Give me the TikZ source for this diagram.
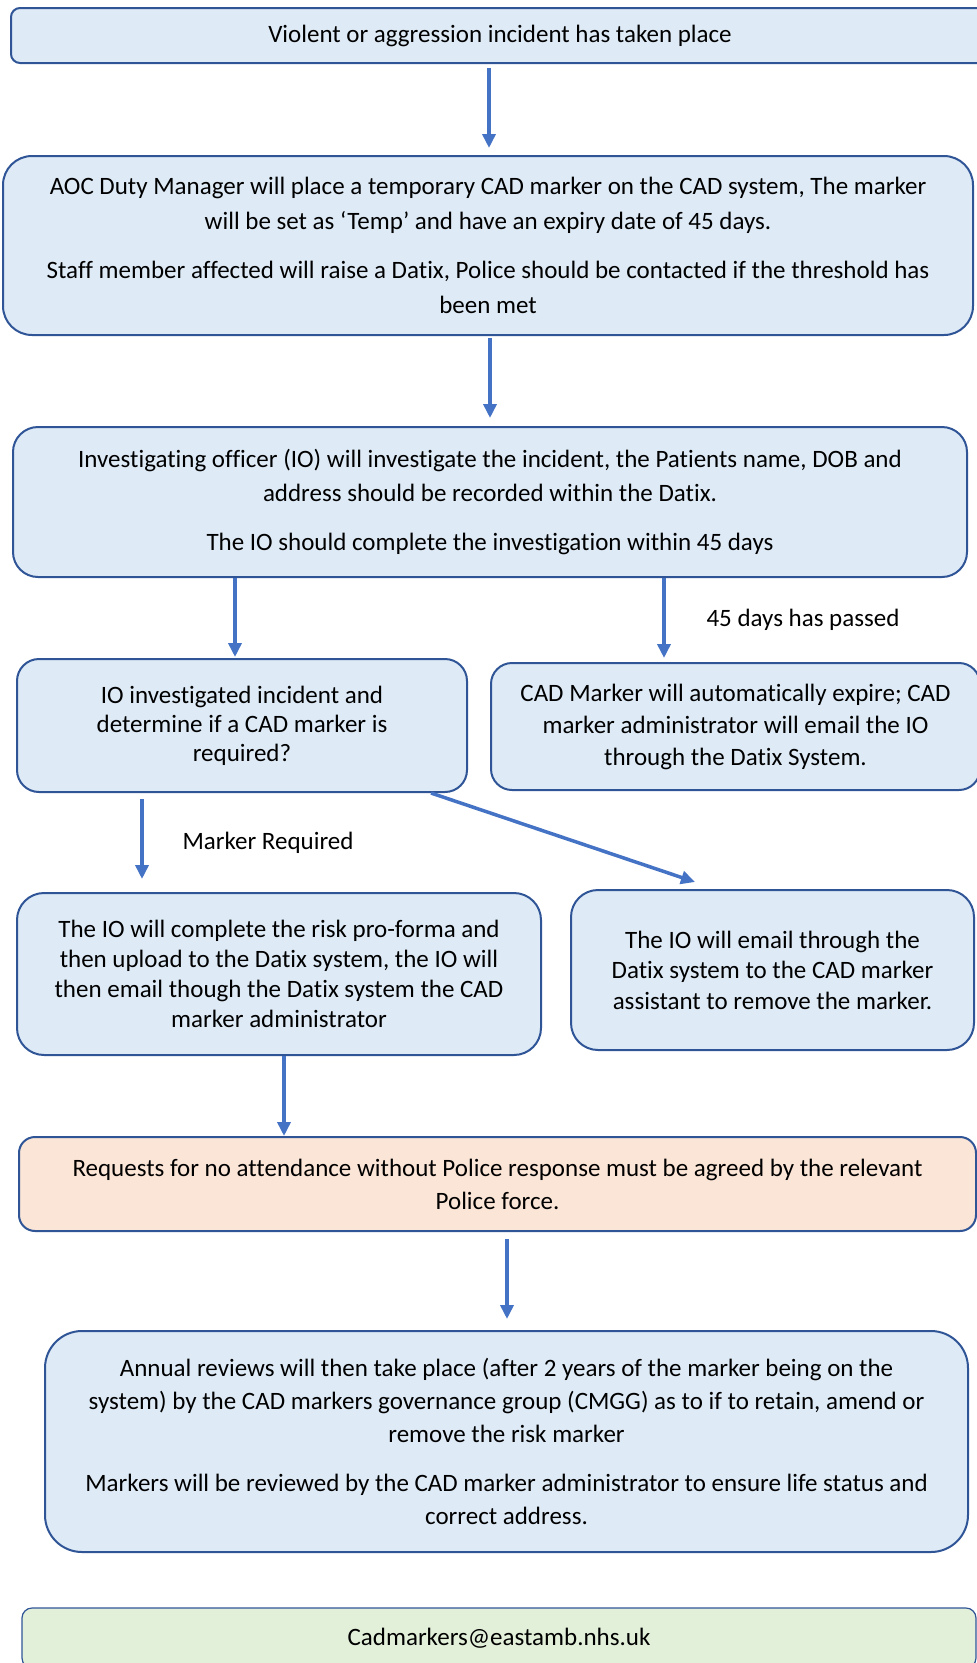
\documentclass[tikz,border=0pt]{standalone}
\usepackage{fontspec}
\setmainfont{Carlito}[Ligatures=NoCommon]
\usepackage{tikz}
\usetikzlibrary{arrows.meta}
\definecolor{edge}{HTML}{2F5597}
\definecolor{bluefill}{HTML}{DEEBF7}
\definecolor{peachfill}{HTML}{FBE5D6}
\definecolor{greenfill}{HTML}{E2F0D9}
\definecolor{arrowblue}{HTML}{4472C4}
\tikzset{
  box/.style={draw=edge, line width=2pt, fill=bluefill, align=center, inner sep=0pt,
    font=\fontsize{25}{33}\selectfont},
  flow/.style={draw=arrowblue, line width=3.5pt, -{Triangle[length=14pt,width=13pt]}},
  lab/.style={font=\fontsize{25}{33}\selectfont},
}

\begin{document}
\begin{tikzpicture}[x=1pt,y=-1pt]
\useasboundingbox (0,0) rectangle (977,1663);
\clip (0,0) rectangle (977,1663);

% incident and temporary marker
\node[box, minimum width=978pt, minimum height=55pt, rounded corners=9pt] (incident) at (500,35.5)
  {Violent or aggression incident has taken place};
\node[box, minimum width=970pt, minimum height=179pt, rounded corners=29pt,
  font=\fontsize{25}{35}\selectfont] (tempmarker) at (488,245.5)
  {AOC Duty Manager will place a temporary CAD marker on the CAD system, The marker\\
   will be set as ‘Temp’ and have an expiry date of 45 days.\\[14pt]
   Staff member affected will raise a Datix, Police should be contacted if the threshold has\\
   been met};

% investigation
\node[box, minimum width=954pt, minimum height=150pt, rounded corners=25pt,
  font=\fontsize{25}{34}\selectfont] (investigate) at (490,502)
  {Investigating officer (IO) will investigate the incident, the Patients name, DOB and\\
   address should be recorded within the Datix.\\[15pt]
   The IO should complete the investigation within 45 days};

% outcome after investigation
\node[box, minimum width=450pt, minimum height=133pt, rounded corners=22pt,
  font=\fontsize{25}{29}\selectfont] (decide) at (242,725.5)
  {IO investigated incident and\\ determine if a CAD marker is\\ required?};
\node[box, minimum width=489pt, minimum height=127pt, rounded corners=21pt,
  font=\fontsize{25}{32}\selectfont] (expire) at (735.5,726.5)
  {CAD Marker will automatically expire; CAD\\ marker administrator will email the IO\\
   through the Datix System.};
\node[lab] (days) at (803,620) {45 days has passed};

% marker required or not
\node[box, minimum width=524pt, minimum height=162pt, rounded corners=27pt,
  font=\fontsize{25}{30}\selectfont] (proforma) at (279,974)
  {The IO will complete the risk pro-forma and\\ then upload to the Datix system, the IO will\\
   then email though the Datix system the CAD\\ marker administrator};
\node[box, minimum width=403pt, minimum height=160pt, rounded corners=27pt,
  font=\fontsize{25}{30.5}\selectfont] (emailremove) at (772.5,970)
  {The IO will email through the\\ Datix system to the CAD marker\\ assistant to remove the marker.};
\node[lab] (req) at (268,843) {Marker Required};

% police and reviews
\node[box, fill=peachfill, minimum width=957pt, minimum height=94pt, rounded corners=16pt] (police) at (497.5,1184)
  {Requests for no attendance without Police response must be agreed by the relevant\\ Police force.};
\node[box, minimum width=923pt, minimum height=221pt, rounded corners=37pt] (review) at (506.5,1441.5)
  {Annual reviews will then take place (after 2 years of the marker being on the\\
   system) by the CAD markers governance group (CMGG) as to if to retain, amend or\\
   remove the risk marker\\[16pt]
   Markers will be reviewed by the CAD marker administrator to ensure life status and\\
   correct address.};
\node[box, fill=greenfill, line width=1.2pt, minimum width=954pt, minimum height=60pt, rounded corners=10pt] (contact) at (499,1638)
  {Cadmarkers@eastamb.nhs.uk};

% arrows
\draw[flow] ([xshift=-11pt,yshift=-4pt]incident.south) -- ([xshift=1pt,yshift=7pt]tempmarker.north);
\draw[flow] ([xshift=2pt,yshift=-2pt]tempmarker.south) -- ([yshift=8pt]investigate.north);
\draw[flow] ([xshift=-255pt]investigate.south) -- ([xshift=-7pt,yshift=1pt]decide.north);
\draw[flow] ([xshift=174pt]investigate.south) -- ([xshift=-71.5pt,yshift=4pt]expire.north);
\draw[flow] ([xshift=-100pt,yshift=-6pt]decide.south) -- ([xshift=-137pt,yshift=13pt]proforma.north);
\draw[flow] ([xshift=189pt]decide.south) -- ([xshift=-77.5pt,yshift=7pt]emailremove.north);
\draw[flow] ([xshift=5pt]proforma.south) -- ([xshift=-213.5pt]police.north);
\draw[flow] ([xshift=9.5pt,yshift=-7pt]police.south) -- ([xshift=0.5pt,yshift=11pt]review.north);
\end{tikzpicture}
\end{document}
